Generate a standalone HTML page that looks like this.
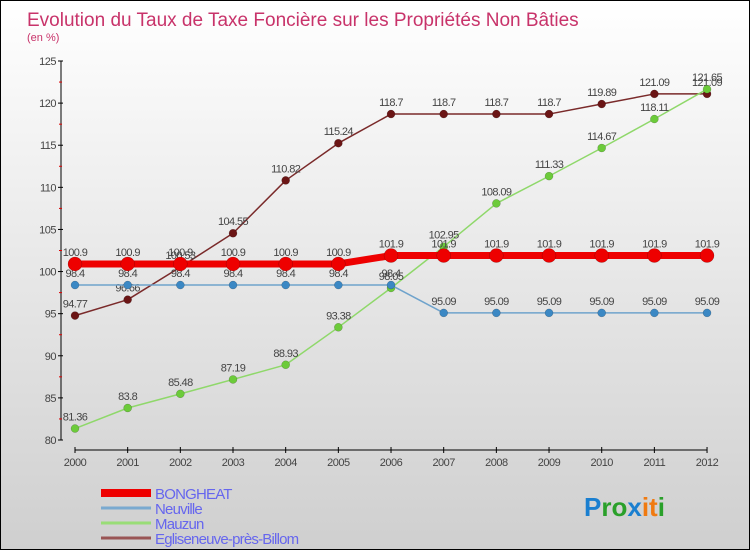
<!DOCTYPE html>
<html><head><meta charset="utf-8">
<style>
html,body{margin:0;padding:0}
body{width:750px;height:550px;overflow:hidden;font-family:"Liberation Sans",sans-serif}
#wrap{position:relative;width:748px;height:548px;border:1px solid #000;background:linear-gradient(#ffffff,#cfcfcf)}
svg{position:absolute;left:0;top:0}
</style></head>
<body>
<div id="wrap">
<svg id="chart" width="748" height="548"></svg>
</div>
<script>
const years=["2000","2001","2002","2003","2004","2005","2006","2007","2008","2009","2010","2011","2012"];
const bongheat=[100.9,100.9,100.9,100.9,100.9,100.9,101.9,101.9,101.9,101.9,101.9,101.9,101.9];
const neuville=[98.4,98.4,98.4,98.4,98.4,98.4,98.4,95.09,95.09,95.09,95.09,95.09,95.09];
const mauzun=[81.36,83.8,85.48,87.19,88.93,93.38,98.05,102.95,108.09,111.33,114.67,118.11,121.65];
const eglise=[94.77,96.66,100.53,104.55,110.82,115.24,118.7,118.7,118.7,118.7,119.89,121.09,121.09];
const yTicks=[80,85,90,95,100,105,110,115,120,125];
const seriesNames=["BONGHEAT","Neuville","Mauzun","Egliseneuve-près-Billom"];

const NS="http://www.w3.org/2000/svg";
const svg=document.getElementById('chart');
const x=i=>74+i*52.67;
const y=v=>439-(v-80)*(379/45);
function el(t,a,p){const e=document.createElementNS(NS,t);for(const k in a)e.setAttribute(k,a[k]);(p||svg).appendChild(e);return e;}
const txtFont='"Liberation Sans",sans-serif';

let t=el('text',{x:26,y:25,'font-size':19,fill:'#c8336a','font-family':txtFont});t.textContent='Evolution du Taux de Taxe Foncière sur les Propriétés Non Bâties';

t=el('text',{x:26,y:40,'font-size':11,fill:'#c8336a','font-family':txtFont});t.textContent='(en %)';


// axes
let a=el('line',{x1:60,y1:y(125),x2:60,y2:y(80),stroke:'#000','stroke-width':1});

a=el('line',{x1:x(0),y1:449,x2:x(12),y2:449,stroke:'#000','stroke-width':1});

yTicks.forEach(v=>{
  el('line',{x1:57,y1:y(v),x2:62,y2:y(v),stroke:'#000'});
  if(v<125) el('line',{x1:58,y1:y(v+2.5),x2:61,y2:y(v+2.5),stroke:'#d00'});
  const tt=el('text',{x:55,y:y(v)+4,'font-size':11,fill:'#444','text-anchor':'end','font-family':txtFont,'letter-spacing':'-0.5'});
  tt.textContent=v;
  
});
years.forEach((yr,i)=>{
  el('line',{x1:x(i),y1:446,x2:x(i),y2:452,stroke:'#000'});
  const tt=el('text',{x:x(i),y:465,'font-size':11,fill:'#444','text-anchor':'middle','font-family':txtFont,'letter-spacing':'-0.5'});
  tt.textContent=yr;
  
});

function series(vals,color,dot,lw,r,name){
  const g=el('g',{});
  
  el('polyline',{points:vals.map((v,i)=>x(i)+','+y(v)).join(' '),fill:'none',stroke:color,'stroke-width':lw,'stroke-linejoin':'round'},g);
  vals.forEach((v,i)=>{
    const c=el('circle',{cx:x(i),cy:y(v),r:r,fill:dot,stroke:'rgba(0,0,0,0.3)','stroke-width':0.5},g);
    
    const tt=el('text',{x:x(i),y:y(v)-8,'font-size':11,fill:'#444','text-anchor':'middle','font-family':txtFont,'letter-spacing':'-0.6'},g);
    tt.textContent=String(v);
    
  });
}
series(eglise,'#7a2a2a','#6b1515',1.5,4,'series-egliseneuve');
series(mauzun,'#8fd86a','#6ccb3a',1.5,4,'series-mauzun');
series(neuville,'#6fa3cc','#3b88c4',1.5,4,'series-neuville');
series(bongheat,'#ee0000','#ee0000',7,7,'series-bongheat');

// legend
const lc=['#ee0000','#7aaad0','#99dd77','#995555'];
const lw=[8,3,3,3];
seriesNames.forEach((n,i)=>{
  const yy=492+i*15;
  const g=el('g',{});
  
  el('line',{x1:100,y1:yy,x2:150,y2:yy,stroke:lc[i],'stroke-width':lw[i]},g);
  const tt=el('text',{x:154,y:yy+6,'font-size':15,fill:'#6666ee','font-family':txtFont,'letter-spacing':'-0.8'},g);
  tt.textContent=n;
});
// logo
const logo=el('text',{x:583,y:515,'font-size':26,'font-family':txtFont,'font-weight':'bold'});

[['P','#1a7fd0'],['ro','#2aa02a'],['x','#1a7fd0'],['it','#f07a10'],['i','#2aa02a']].forEach(([s,c])=>{
  const sp=el('tspan',{fill:c},logo);sp.textContent=s;
});
</script>
</body></html>
